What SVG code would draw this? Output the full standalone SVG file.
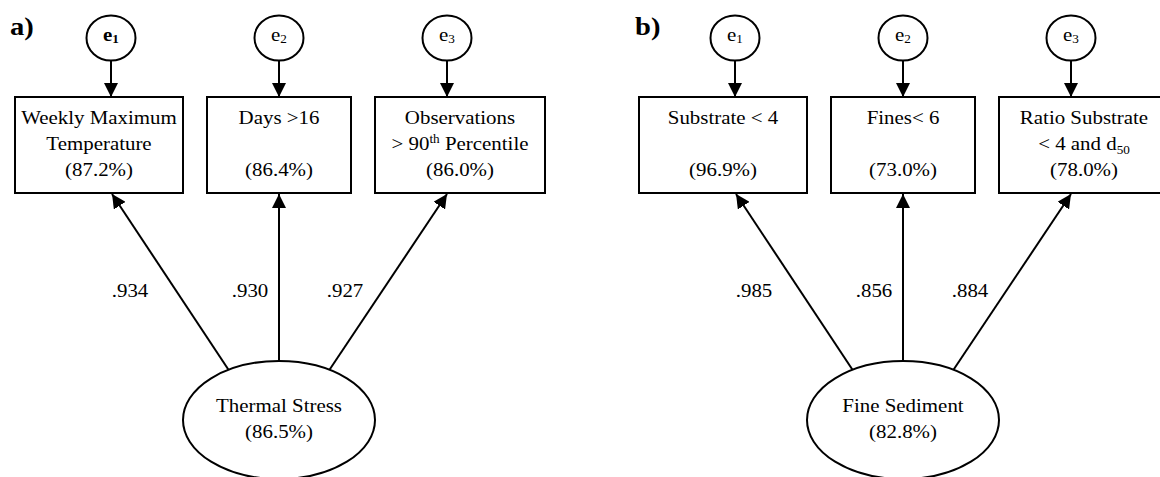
<svg xmlns="http://www.w3.org/2000/svg" width="1160" height="477" viewBox="0 0 1160 477" font-family="'Liberation Serif', serif">
<style>
text{font-family:'Liberation Serif', serif;font-size:19px;fill:#000;text-anchor:middle}
.lbl{font-weight:bold;font-size:26px;text-anchor:start}
.sub{font-size:12px}
.box,.circ,.ell{fill:#fff;stroke:#000;stroke-width:2}
.con{stroke:#000;stroke-width:2;fill:none;marker-end:url(#ah)}
</style>
<defs>
<marker id="ah" markerUnits="userSpaceOnUse" markerWidth="15" markerHeight="14" refX="14" refY="7" orient="auto">
<path d="M0,0 L14,7 L0,14 z" fill="#000"/>
</marker>
</defs>
<rect width="1160" height="477" fill="#fff"/>

<!-- Panel a -->
<g id="panel-a">
<text class="lbl" transform="translate(10,35) scale(1.1,1)">a)</text>
<g id="connectors-a">
<line class="con" x1="111" y1="61" x2="111" y2="97"/>
<line class="con" x1="279" y1="61" x2="279" y2="97"/>
<line class="con" x1="447" y1="61" x2="447" y2="97"/>
<line class="con" x1="230" y1="372" x2="112" y2="194"/>
<line class="con" x1="279" y1="361" x2="279" y2="194"/>
<line class="con" x1="328" y1="372" x2="447" y2="194"/>
<text transform="translate(130,297) scale(1.1,1)">.934</text>
<text transform="translate(250,297) scale(1.1,1)">.930</text>
<text transform="translate(345,297) scale(1.1,1)">.927</text>
</g>
<g id="a-e1">
<ellipse class="circ" cx="111" cy="38" rx="24.5" ry="22.5"/>
<text transform="translate(111,41) scale(1.1,1)" font-weight="bold">e<tspan class="sub" dy="2">1</tspan></text>
</g>
<g id="a-e2">
<ellipse class="circ" cx="279" cy="38" rx="24.5" ry="22.5"/>
<text transform="translate(279,41) scale(1.1,1)">e<tspan class="sub" dy="2">2</tspan></text>
</g>
<g id="a-e3">
<ellipse class="circ" cx="447" cy="38" rx="24.5" ry="22.5"/>
<text transform="translate(447,41) scale(1.1,1)">e<tspan class="sub" dy="2">3</tspan></text>
</g>
<g id="a-weekly-max">
<rect class="box" x="15" y="97" width="168" height="96"/>
<text transform="translate(99,124) scale(1.1,1)">Weekly Maximum</text>
<text transform="translate(99,150) scale(1.1,1)">Temperature</text>
<text transform="translate(99,176) scale(1.1,1)">(87.2%)</text>
</g>
<g id="a-days16">
<rect class="box" x="207" y="97" width="144" height="96"/>
<text transform="translate(279,124) scale(1.1,1)">Days &gt;16</text>
<text transform="translate(279,176) scale(1.1,1)">(86.4%)</text>
</g>
<g id="a-observations">
<rect class="box" x="375" y="97" width="170" height="96"/>
<text transform="translate(460,124) scale(1.1,1)">Observations</text>
<text transform="translate(460,150) scale(1.1,1)">&gt; 90<tspan class="sub" dy="-7">th</tspan><tspan dy="7"> Percentile</tspan></text>
<text transform="translate(460,176) scale(1.1,1)">(86.0%)</text>
</g>
<g id="a-thermal-stress">
<ellipse class="ell" cx="279" cy="420" rx="96" ry="59"/>
<text transform="translate(279,412) scale(1.1,1)">Thermal Stress</text>
<text transform="translate(279,438) scale(1.1,1)">(86.5%)</text>
</g>
</g>

<!-- Panel b -->
<g id="panel-b" transform="translate(624,0)">
<text class="lbl" transform="translate(11,35) scale(1.1,1)">b)</text>
<g id="connectors-b">
<line class="con" x1="111" y1="61" x2="111" y2="97"/>
<line class="con" x1="279" y1="61" x2="279" y2="97"/>
<line class="con" x1="447" y1="61" x2="447" y2="97"/>
<line class="con" x1="230" y1="372" x2="112" y2="194"/>
<line class="con" x1="279" y1="361" x2="279" y2="194"/>
<line class="con" x1="328" y1="372" x2="447" y2="194"/>
<text transform="translate(130,297) scale(1.1,1)">.985</text>
<text transform="translate(250,297) scale(1.1,1)">.856</text>
<text transform="translate(346,297) scale(1.1,1)">.884</text>
</g>
<g id="b-e1">
<ellipse class="circ" cx="111" cy="38" rx="24.5" ry="22.5"/>
<text transform="translate(111,41) scale(1.1,1)">e<tspan class="sub" dy="2">1</tspan></text>
</g>
<g id="b-e2">
<ellipse class="circ" cx="279" cy="38" rx="24.5" ry="22.5"/>
<text transform="translate(279,41) scale(1.1,1)">e<tspan class="sub" dy="2">2</tspan></text>
</g>
<g id="b-e3">
<ellipse class="circ" cx="447" cy="38" rx="24.5" ry="22.5"/>
<text transform="translate(447,41) scale(1.1,1)">e<tspan class="sub" dy="2">3</tspan></text>
</g>
<g id="b-substrate">
<rect class="box" x="15" y="97" width="168" height="96"/>
<text transform="translate(99,124) scale(1.1,1)">Substrate &lt; 4</text>
<text transform="translate(99,176) scale(1.1,1)">(96.9%)</text>
</g>
<g id="b-fines">
<rect class="box" x="207" y="97" width="144" height="96"/>
<text transform="translate(279,124) scale(1.1,1)">Fines&lt; 6</text>
<text transform="translate(279,176) scale(1.1,1)">(73.0%)</text>
</g>
<g id="b-ratio">
<rect class="box" x="375" y="97" width="170" height="96"/>
<text transform="translate(460,124) scale(1.1,1)">Ratio Substrate</text>
<text transform="translate(460,150) scale(1.1,1)">&lt; 4 and d<tspan class="sub" dy="4">50</tspan></text>
<text transform="translate(460,176) scale(1.1,1)">(78.0%)</text>
</g>
<g id="b-fine-sediment">
<ellipse class="ell" cx="279" cy="420" rx="96" ry="59"/>
<text transform="translate(279,412) scale(1.1,1)">Fine Sediment</text>
<text transform="translate(279,438) scale(1.1,1)">(82.8%)</text>
</g>
</g>
</svg>
